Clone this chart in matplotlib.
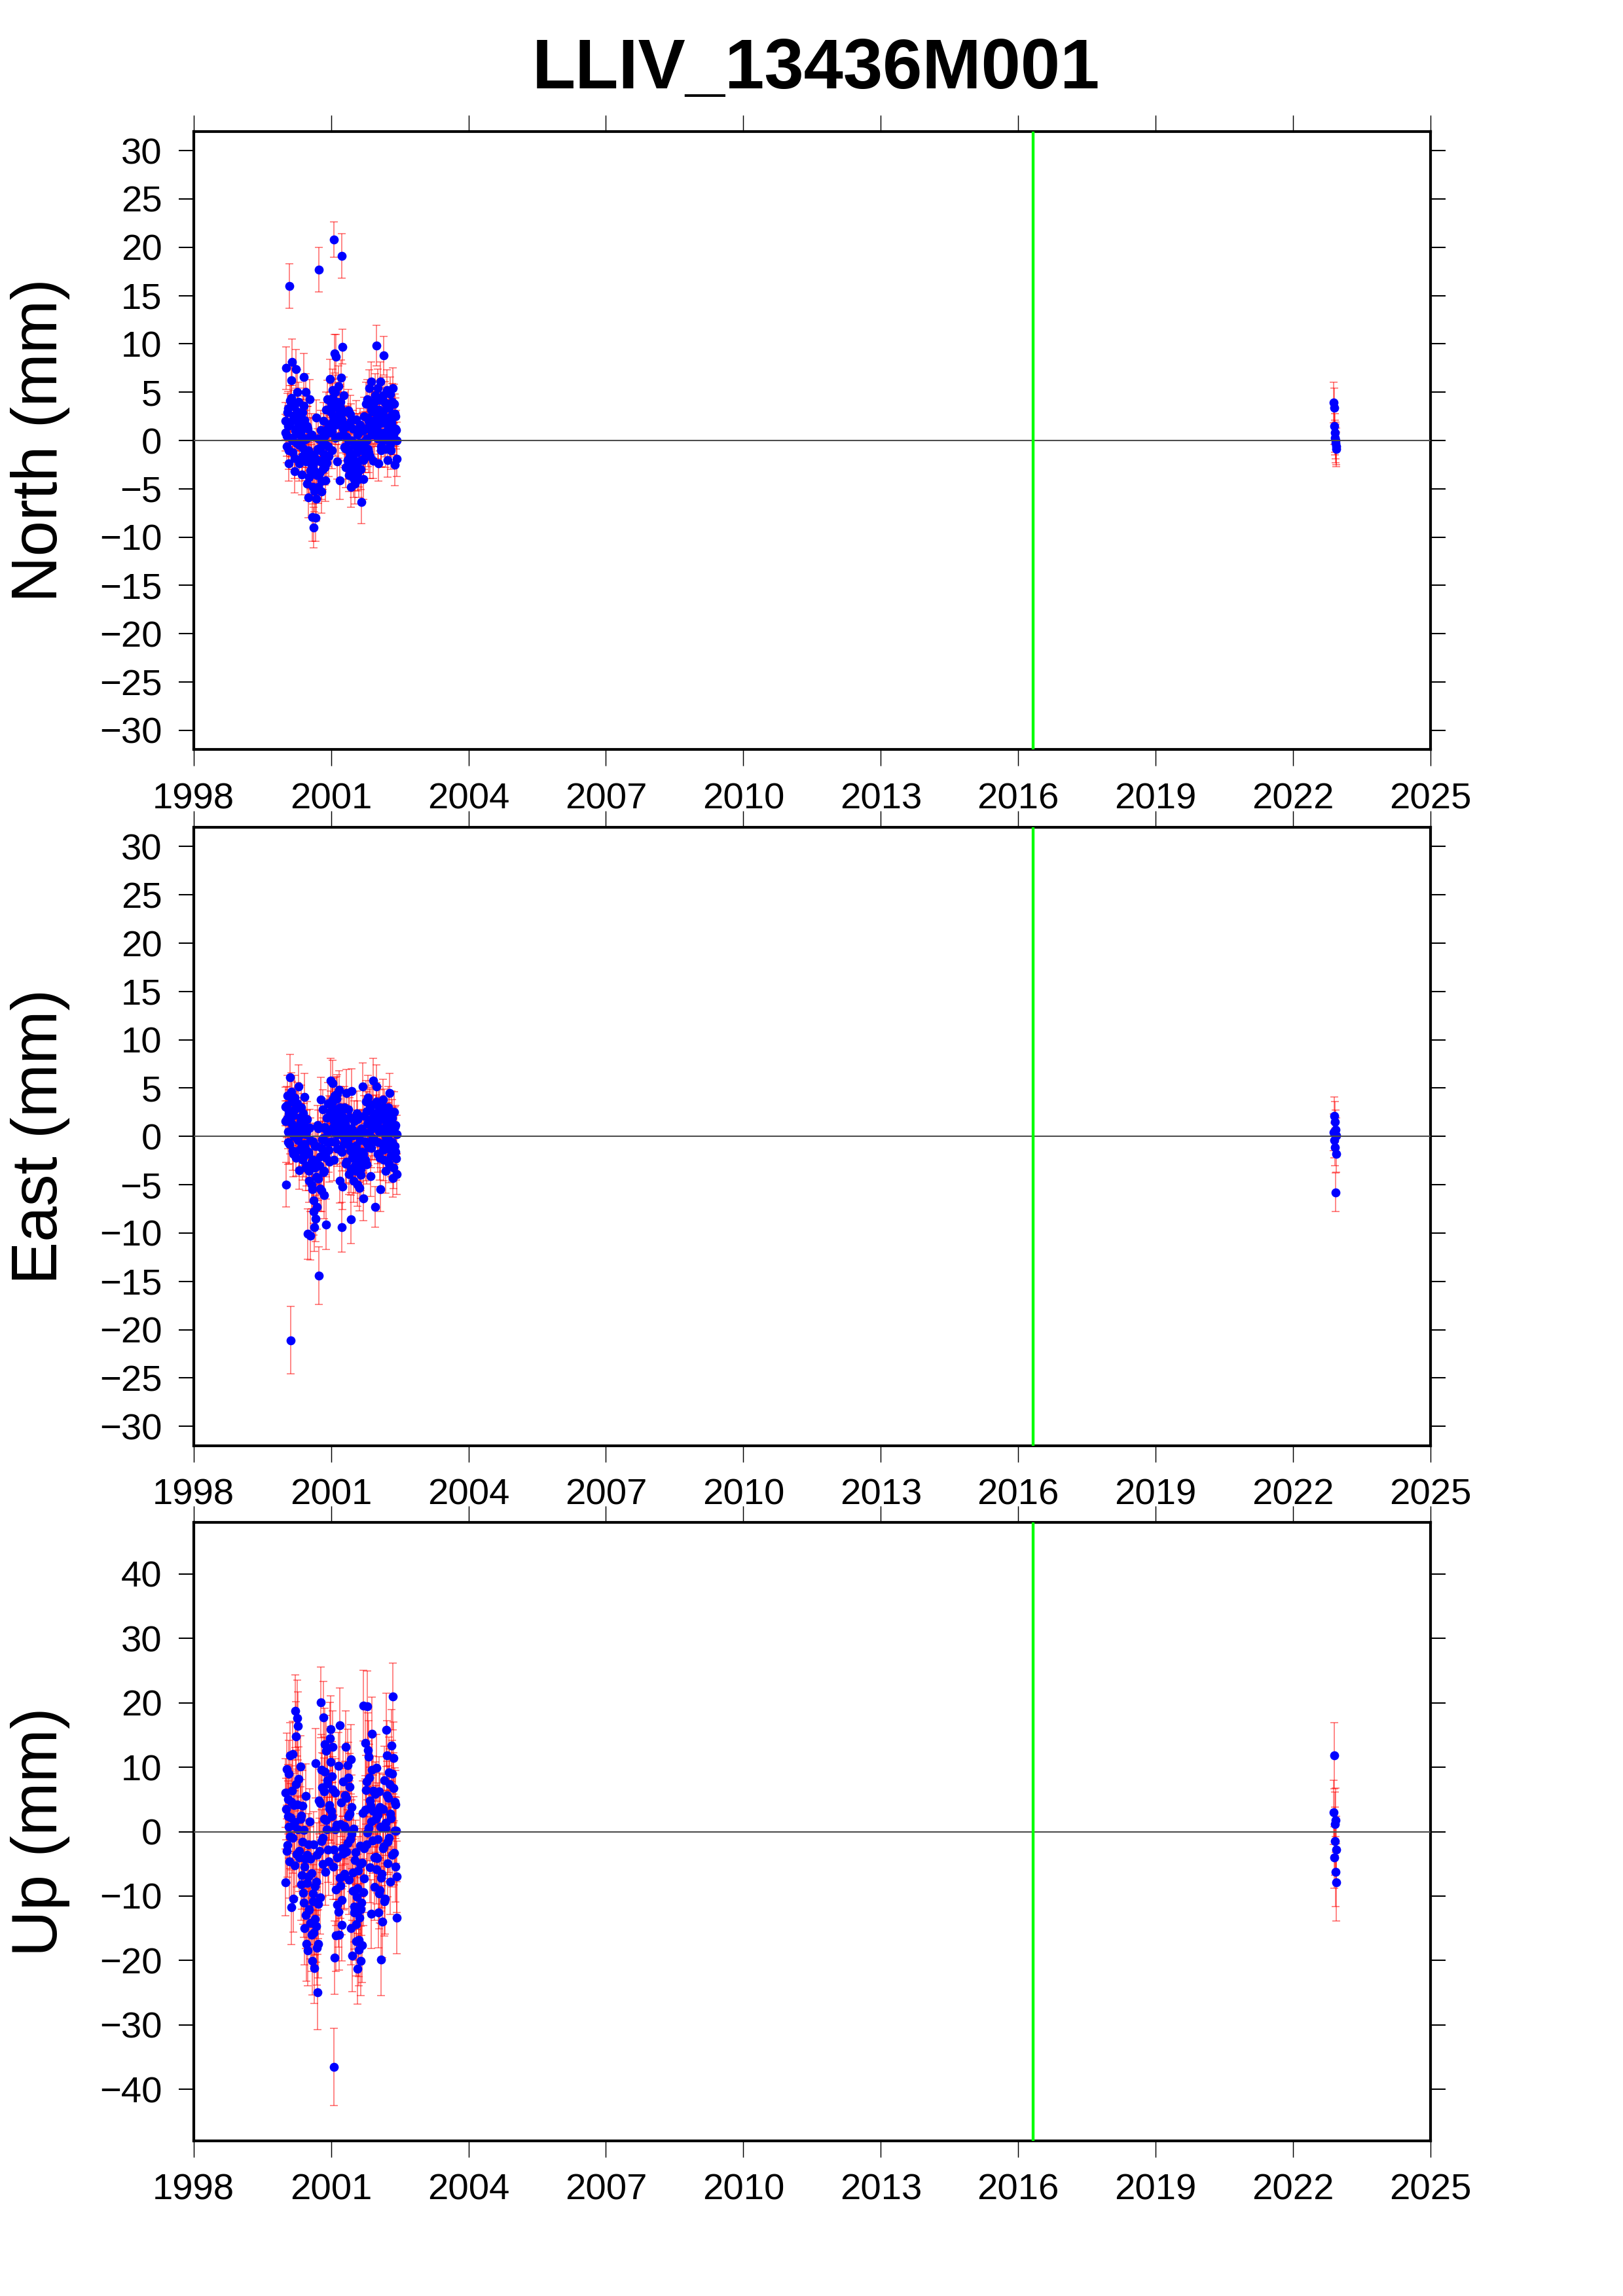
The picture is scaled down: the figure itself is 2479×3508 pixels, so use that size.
import matplotlib
matplotlib.use('Agg')
import matplotlib.pyplot as plt
import numpy as np

plt.rcParams['font.family'] = ['Liberation Sans', 'DejaVu Sans']

site = 'LLIV_13436M001'
event_time = 2016.33   # green line

# epochs of the first campaign (decimal years)
t_main = [
    2000.003, 2000.018, 2000.031, 2000.047, 2000.062, 2000.075, 2000.091, 2000.104, 2000.118, 2000.134,
    2000.149, 2000.162, 2000.178, 2000.192, 2000.205, 2000.221, 2000.236, 2000.249, 2000.265, 2000.281,
    2000.296, 2000.311, 2000.327, 2000.342, 2000.356, 2000.371, 2000.387, 2000.402, 2000.418, 2000.433,
    2000.447, 2000.463, 2000.478, 2000.494, 2000.509, 2000.523, 2000.539, 2000.554, 2000.570, 2000.585,
    2000.601, 2000.616,
    2000.632, 2000.647, 2000.663, 2000.678, 2000.694, 2000.708, 2000.724, 2000.739, 2000.755, 2000.770,
    2000.786, 2000.801, 2000.816, 2000.832, 2000.847, 2000.863, 2000.878, 2000.893, 2000.909, 2000.924,
    2000.940, 2000.955,
    2000.971, 2000.986, 2001.001, 2001.016, 2001.032, 2001.047, 2001.063, 2001.078, 2001.093, 2001.109,
    2001.124, 2001.140, 2001.155, 2001.171, 2001.186, 2001.201, 2001.217, 2001.232, 2001.248, 2001.263,
    2001.278, 2001.294,
    2001.309, 2001.325, 2001.340, 2001.356, 2001.371, 2001.386, 2001.402, 2001.417, 2001.433, 2001.448,
    2001.464, 2001.479, 2001.494, 2001.510, 2001.525, 2001.541, 2001.556, 2001.571, 2001.587, 2001.602,
    2001.618, 2001.633,
    2001.649, 2001.664, 2001.679, 2001.695, 2001.710, 2001.726, 2001.741, 2001.757, 2001.772, 2001.787,
    2001.803, 2001.818, 2001.834, 2001.849, 2001.864, 2001.880, 2001.895, 2001.911, 2001.926, 2001.942,
    2001.957, 2001.972,
    2001.988, 2002.003, 2002.019, 2002.034, 2002.049, 2002.065, 2002.080, 2002.096, 2002.111, 2002.127,
    2002.142, 2002.157, 2002.173, 2002.188, 2002.204, 2002.219, 2002.235, 2002.250, 2002.265, 2002.281,
    2002.296, 2002.312, 2002.327, 2002.342, 2002.358, 2002.373, 2002.389, 2002.404, 2002.420, 2002.435,
]

north = [
    0.8, 7.5, -0.6, 2.9, 1.5, -2.4, 16.0, 4.1, 0.3, 6.2, 8.1, -1.2, 2.2, 3.5, -3.2, 1.0, 7.4, -0.3, 5.0, 1.9,
    4.0, -2.4, 1.8, 0.5, -3.5, 2.9, -0.8, 6.6, 2.1, -1.5, 5.0, 0.2, -4.5, 1.2, -5.9, -2.0, 4.3, -3.1, 0.6, -7.9, -2.6, -9.0,
    -5.2, -1.8, -8.0, 2.4, -3.6, -0.9, -4.8, 17.7, -2.2, 1.1, -5.3, -0.4, -3.0, 2.0, -1.4, 0.5, -4.1, 3.2, -2.3, 4.3, -0.6, 1.7,
    6.4, 1.5, 3.8, -1.0, 5.2, 2.6, 20.8, 9.0, 0.3, 8.7, 4.0, -2.2, 5.6, 2.0, -4.1, 3.4, 6.5, 19.1, 9.7, 1.2, 4.7, -0.7,
    1.6, -2.8, 0.4, -0.9, 3.1, -3.6, -1.7, 2.7, -4.8, 0.0, -2.3, 1.2, -3.9, -0.5, -4.5, 2.2, -1.2, -3.4, 0.8, -2.9, -0.3, 1.6,
    -2.0, -6.4, -0.7, 1.0, -4.0, 2.5, -1.6, 3.8, 0.2, 4.3, -0.9, 2.0, 5.4, -1.6, 1.1, 6.1, 3.6, 3.0, -2.1, 0.6, 4.7, 2.2,
    9.8, 1.5, 5.4, -2.4, 3.2, 0.8, 6.1, -1.0, 2.6, 4.7, 8.8, 0.1, 3.9, -0.9, 2.2, 5.2, -2.0, 1.4, 3.4, 0.5,
    4.8, -1.0, 2.7, 5.4, 0.2, 3.8, -2.5, 2.5, 1.1, -1.9,
]
north_err = [
    1.9, 2.2, 1.7, 2.0, 2.1, 1.8, 2.3, 1.6, 2.0, 1.9, 2.4, 1.8, 2.1, 1.7, 2.2, 1.9, 2.0, 1.8, 2.3, 1.7,
    2.0, 1.8, 2.2, 1.9, 2.1, 1.7, 2.0, 2.4, 1.8, 2.2, 1.9, 2.0, 1.7, 2.3, 2.1, 1.8, 2.0, 1.9, 2.2, 2.5, 1.8, 2.1,
    2.2, 1.9, 2.4, 1.8, 2.0, 2.1, 1.7, 2.3, 1.9, 2.0, 2.2, 1.8, 2.1, 1.9, 2.0, 1.7, 2.2, 1.8, 2.0, 1.9, 2.1, 1.8,
    2.0, 1.8, 2.1, 1.9, 2.2, 1.7, 1.8, 2.0, 1.9, 2.3, 2.0, 1.8, 2.1, 1.9, 2.0, 2.2, 1.8, 2.3, 1.8, 2.0, 1.9, 2.1,
    1.9, 2.1, 1.8, 2.0, 2.2, 1.7, 1.9, 2.0, 2.1, 1.8, 2.3, 1.9, 2.0, 1.8, 2.1, 1.9, 2.2, 1.8, 2.0, 1.9, 2.1, 1.7,
    2.0, 2.2, 1.8, 1.9, 2.1, 2.0, 1.7, 2.2, 1.9, 2.0, 1.8, 2.1, 1.9, 2.3, 1.8, 2.0, 1.9, 2.1, 1.8, 2.0, 2.2, 1.9,
    2.1, 1.9, 2.0, 1.8, 2.2, 1.9, 2.0, 1.7, 2.1, 1.9, 2.0, 1.8, 2.2, 1.9, 2.0, 2.1, 1.8, 1.9, 2.0, 2.2,
    1.8, 2.0, 1.9, 2.1, 1.7, 2.0, 2.2, 1.9, 2.0, 1.8,
]

east = [
    3.1, -5.0, 1.8, 4.2, 0.5, 2.6, -0.8, 6.1, -21.1, 1.4, 3.6, -1.5, 2.2, 0.0, 4.0, 1.0, -2.2, 2.9, 0.6, -0.4,
    5.2, -3.5, 1.5, 3.0, -0.9, 0.6, 2.4, -2.0, 4.1, -1.2, 0.2, -3.0, 1.8, -10.1, -1.8, -4.6, 0.9, -10.3, -2.7, -5.5, -0.5, -7.8,
    -9.4, -3.2, -8.5, -1.0, -7.3, 1.2, -4.4, -14.4, -2.1, 3.8, -5.6, -0.3, 2.8, -3.7, -6.1, 0.8, -1.9, -9.1, 1.9, -0.6, 3.4, -2.6,
    2.1, 5.8, -0.5, 3.5, 5.5, 1.0, -2.4, 4.2, 2.8, 0.3, 3.9, -1.3, 1.7, 4.8, -4.6, 0.6, 2.5, -9.4, -5.2, 1.4, -0.8, 3.0,
    1.2, -2.8, 4.5, -0.4, 0.7, -3.9, 2.0, -1.5, -8.6, 4.7, -2.2, 0.1, -4.6, 1.6, -3.0, -0.9, 2.4, -5.0, -1.8, 0.5, -5.3, -2.6,
    -3.4, 0.8, -1.6, 5.2, -6.4, 2.1, -0.5, 3.6, -2.9, 1.3, 4.0, -1.1, 0.4, 2.7, -4.1, 1.8, 3.3, -0.2, 5.8, 0.9, -7.3, 2.4,
    5.2, 1.4, -1.8, 3.1, 0.5, 2.6, -5.5, 1.9, -0.7, 3.8, -2.4, 0.9, 2.2, -3.6, 0.2, 1.6, -1.3, 3.0, -0.4, 4.5,
    0.8, -2.0, 1.9, -4.3, 0.6, 2.5, -1.0, 1.2, -2.3, -3.9,
]
east_err = [
    2.0, 2.3, 1.9, 2.1, 1.8, 2.2, 2.0, 2.4, 3.5, 1.9, 2.1, 2.0, 2.2, 1.8, 2.3, 2.0, 1.9, 2.1, 2.2, 1.9,
    2.2, 2.0, 1.9, 2.3, 2.1, 1.8, 2.0, 2.2, 2.4, 1.9, 2.0, 2.1, 1.8, 2.6, 2.0, 2.2, 1.9, 2.5, 2.1, 2.3, 1.9, 2.4,
    2.5, 2.1, 2.4, 1.9, 2.3, 2.0, 2.2, 3.0, 2.1, 2.3, 2.2, 1.9, 2.0, 2.2, 2.4, 1.9, 2.1, 2.6, 2.0, 1.9, 2.2, 2.1,
    2.0, 2.3, 1.9, 2.1, 2.4, 2.0, 2.2, 1.9, 2.1, 2.0, 2.3, 1.8, 2.2, 2.0, 2.3, 1.9, 2.1, 2.6, 2.4, 2.0, 1.9, 2.2,
    2.1, 2.0, 2.4, 1.9, 2.2, 2.1, 2.0, 1.8, 2.5, 2.3, 2.0, 1.9, 2.2, 2.1, 2.0, 1.9, 2.3, 2.2, 2.0, 1.8, 2.4, 2.1,
    2.2, 1.9, 2.0, 2.4, 2.3, 2.1, 1.9, 2.2, 2.0, 2.1, 2.3, 1.9, 2.0, 2.2, 2.1, 1.9, 2.0, 2.2, 2.3, 2.0, 2.1, 1.9,
    2.2, 2.0, 1.9, 2.1, 2.0, 2.2, 2.3, 1.9, 2.0, 2.1, 2.2, 1.9, 2.0, 2.3, 2.1, 1.9, 2.0, 2.2, 1.9, 2.0,
    2.1, 2.2, 1.9, 2.0, 2.3, 2.1, 1.9, 2.0, 2.2, 2.1,
]

up = [
    -7.9, 3.5, 9.7, -2.1, 5.0, 0.8, -4.6, 11.8, 2.2, -11.7, 6.4, -1.0, -10.4, 4.1, 1.5, 18.7, 14.8, -3.5, 17.6, 16.4,
    8.2, -3.0, 10.1, 2.5, -6.8, 4.0, -9.5, 0.3, -15.0, -4.2, 5.5, -17.4, -8.0, -18.4, -2.0, -12.1, 1.6, -14.2, -6.5, -20.1, -10.8, -15.7,
    -21.2, -8.5, 10.6, -14.7, -3.6, -24.9, -17.4, 4.8, -10.2, 20.1, -1.5, 6.9, -5.0, 17.7, 2.0, 9.3, -6.2, 12.5, 0.4, 7.5, -2.8, 4.1,
    14.5, 15.9, 3.2, 8.6, 13.2, -5.4, -36.5, -19.6, 6.0, -16.1, 1.1, -11.3, 10.2, -16.0, 16.5, -8.4, 4.5, -14.5, -2.6, 7.8, -6.9, 0.9,
    5.6, 13.2, -3.1, 10.3, 2.4, -7.5, 7.0, -1.2, -15.0, 3.8, -19.3, -9.2, 0.5, -12.6, -4.4, -17.0, -10.1, -21.3, -6.0, -18.3, -13.4, -2.2,
    -20.1, -11.0, -4.8, 2.9, 19.6, -7.3, 13.8, 6.5, -2.0, 19.5, 12.7, 0.6, 8.4, -5.5, 4.0, -12.8, 9.6, -1.4, 3.2, -8.6, 5.8, -3.9,
    9.9, -4.1, 2.6, -12.5, 6.3, -9.1, 0.8, -19.9, -6.6, 3.5, -2.3, 8.0, -10.4, 1.4, 15.8, 11.8, -4.9, 5.2, -1.0, 7.4,
    -7.8, 2.1, 9.0, 21.0, 11.4, -3.3, 4.6, -5.4, 0.2, -13.4,
]
up_err = [
    5.2, 4.8, 5.6, 5.0, 5.4, 4.9, 5.7, 5.1, 5.3, 5.8, 4.7, 5.5, 5.2, 5.0, 4.9, 5.6, 5.4, 5.1, 5.9, 5.3,
    5.0, 5.4, 4.8, 5.6, 5.2, 5.5, 4.9, 5.3, 5.7, 5.1, 5.0, 5.8, 5.2, 5.5, 4.8, 5.4, 5.1, 5.6, 5.0, 5.3, 5.7, 5.2,
    5.5, 5.1, 5.4, 5.6, 5.0, 5.8, 5.3, 5.2, 5.7, 5.5, 4.9, 5.3, 5.1, 5.6, 5.0, 5.4, 5.2, 5.5, 4.9, 5.3, 5.1, 5.4,
    5.6, 5.2, 5.0, 5.4, 5.5, 5.1, 6.0, 5.7, 5.3, 5.6, 5.0, 5.4, 5.2, 5.5, 5.8, 5.1, 5.3, 5.6, 5.0, 5.4, 5.2, 5.1,
    5.3, 5.5, 5.0, 5.6, 5.2, 5.4, 5.1, 5.3, 5.7, 5.0, 5.5, 5.2, 4.9, 5.6, 5.3, 5.4, 5.1, 5.5, 5.2, 5.6, 5.3, 5.0,
    5.4, 5.1, 5.3, 5.0, 5.5, 5.2, 5.6, 5.3, 4.9, 5.4, 5.7, 5.1, 5.2, 5.5, 5.0, 5.3, 5.4, 5.1, 5.6, 5.2, 5.0, 5.3,
    5.2, 5.4, 5.0, 5.5, 5.3, 5.1, 4.9, 5.6, 5.2, 5.4, 5.0, 5.3, 5.5, 5.1, 5.7, 5.4, 5.2, 5.0, 5.3, 5.5,
    5.1, 5.4, 5.2, 5.2, 5.6, 5.0, 5.3, 5.5, 5.1, 5.6,
]

# further epochs of the same campaign, in between the ones above
t_more = [
    2000.010, 2000.034, 2000.059, 2000.083, 2000.108, 2000.132, 2000.157, 2000.181, 2000.206, 2000.230,
    2000.255, 2000.279, 2000.304, 2000.328, 2000.353, 2000.377, 2000.402, 2000.426, 2000.451, 2000.475,
    2000.500, 2000.524, 2000.549, 2000.573, 2000.598, 2000.622, 2000.647, 2000.671, 2000.696, 2000.720,
    2000.745, 2000.769, 2000.794, 2000.818, 2000.843, 2000.867, 2000.892, 2000.916, 2000.941, 2000.965,
    2000.990, 2001.014, 2001.039, 2001.063, 2001.088, 2001.112, 2001.137, 2001.161, 2001.186, 2001.210,
    2001.235, 2001.259, 2001.284, 2001.308, 2001.333, 2001.357, 2001.382, 2001.406, 2001.431, 2001.455,
    2001.480, 2001.504, 2001.529, 2001.553, 2001.578, 2001.602, 2001.627, 2001.651, 2001.676, 2001.700,
    2001.725, 2001.749, 2001.774, 2001.798, 2001.823, 2001.847, 2001.872, 2001.896, 2001.921, 2001.945,
    2001.970, 2001.994, 2002.019, 2002.043, 2002.068, 2002.092, 2002.117, 2002.141, 2002.166, 2002.190,
    2002.215, 2002.239, 2002.264, 2002.288, 2002.313, 2002.337, 2002.362, 2002.386, 2002.411, 2002.435,
]
north_more = [
    2.0, 0.5, 3.3, -1.0, 1.8, 4.4, 0.0, 2.6, -1.8, 1.2,
    3.0, 0.7, -0.5, 2.4, 1.0, -1.6, 3.6, 0.1, -2.2, 1.5,
    -1.0, -3.8, 0.4, -2.6, -4.8, -1.5, -3.2, -6.0, -2.0, 0.2,
    -3.4, -1.0, -4.2, -2.0, 0.6, -2.8, -0.5, 1.2, -1.6, 0.8,
    3.0, 1.0, 4.4, 2.2, 5.0, 1.6, 3.4, 0.4, 2.8, 4.0,
    2.2, 0.6, 3.0, -0.8, 1.4, -2.0, 0.0, -1.2, 2.0, -3.0,
    -1.8, -0.4, -3.2, -2.4, 0.6, -4.0, -1.0, -3.0, -0.2, -2.0,
    -0.8, 1.2, 0.0, 2.4, -1.2, 1.6, 3.2, 0.6, 2.0, 4.0,
    1.4, 3.2, 0.2, 2.6, 4.2, -0.6, 1.8, 3.0, 0.8, 2.2,
    3.6, 1.0, 2.4, -0.4, 1.8, 4.0, 0.6, 2.8, 1.2, 0.0,
]
north_more_err = [
    1.9, 2.1, 1.8, 2.0, 2.2, 1.9, 2.0, 1.7, 2.1, 1.9,
    2.0, 1.8, 2.2, 1.9, 2.1, 2.0, 1.8, 2.3, 1.9, 2.0,
    2.1, 1.9, 2.0, 2.2, 1.8, 2.0, 2.1, 2.3, 1.9, 2.0,
    1.8, 2.1, 1.9, 2.0, 2.2, 1.8, 2.0, 1.9, 2.1, 1.8,
    2.0, 2.2, 1.9, 2.1, 1.8, 2.0, 1.9, 2.2, 2.0, 1.8,
    2.1, 1.9, 2.0, 1.8, 2.2, 2.0, 1.9, 2.1, 1.8, 2.0,
    1.9, 2.1, 2.0, 1.8, 2.2, 1.9, 2.0, 2.1, 1.9, 2.0,
    2.2, 1.8, 2.0, 1.9, 2.1, 2.0, 1.8, 2.2, 1.9, 2.1,
    2.0, 1.9, 2.1, 1.8, 2.0, 2.2, 1.9, 2.0, 1.8, 2.1,
    1.9, 2.0, 2.2, 1.8, 2.0, 1.9, 2.1, 2.0, 1.8, 1.9,
]
east_more = [
    1.6, 3.2, -0.6, 2.2, 0.4, 4.6, 1.2, -1.8, 2.8, 0.0,
    3.4, 1.0, -1.4, 2.0, 0.2, -2.4, 1.4, -0.8, -3.2, 0.6,
    -1.6, -3.6, -0.4, -5.0, -2.4, -6.6, -1.0, -4.2, -2.8, 0.8,
    -3.0, -5.4, -1.2, -0.2, -3.6, 1.0, -2.2, 0.4, -1.4, 2.2,
    2.6, 0.6, 3.8, 1.6, -0.6, 2.4, 4.4, 0.2, 3.0, 1.2,
    -1.6, 2.0, -0.2, 1.4, -2.6, 0.4, 2.8, -1.0, -3.4, 0.8,
    -2.0, 0.2, -3.6, -1.2, 1.8, -2.6, -0.4, -4.0, 0.6, -1.8,
    0.4, -2.4, 2.6, -0.8, 1.4, 3.2, -1.2, 0.8, 2.0, -0.4,
    1.6, 3.6, -0.6, 2.2, -2.2, 0.6, 1.8, -1.4, 3.0, 0.0,
    -1.0, 1.4, -2.8, 0.4, 2.4, -0.6, -3.2, 1.0, -1.6, 0.2,
]
east_more_err = [
    2.1, 2.0, 2.3, 1.9, 2.2, 2.0, 2.1, 2.4, 1.9, 2.0,
    2.2, 2.1, 1.9, 2.0, 2.3, 2.1, 2.0, 1.9, 2.4, 2.1,
    2.2, 2.0, 2.3, 2.5, 2.1, 2.4, 2.0, 2.2, 2.1, 1.9,
    2.3, 2.4, 2.0, 2.1, 2.2, 1.9, 2.0, 2.1, 2.3, 2.0,
    2.1, 1.9, 2.2, 2.0, 2.3, 2.1, 2.0, 1.9, 2.2, 2.1,
    2.0, 2.2, 2.1, 1.9, 2.3, 2.0, 2.1, 2.2, 2.4, 1.9,
    2.1, 2.0, 2.3, 2.1, 1.9, 2.2, 2.0, 2.4, 2.1, 2.0,
    1.9, 2.2, 2.0, 2.1, 2.3, 1.9, 2.0, 2.1, 2.2, 2.0,
    2.1, 2.0, 2.2, 1.9, 2.3, 2.0, 2.1, 2.2, 1.9, 2.0,
    2.2, 2.1, 2.0, 1.9, 2.3, 2.0, 2.2, 2.1, 1.9, 2.0,
]
up_more = [
    6.0, -3.0, 2.4, 9.0, -0.8, 4.6, 12.0, 1.0, -5.2, 7.4,
    4.2, 0.4, -4.0, 2.0, -8.2, -1.6, -11.0, -5.4, -13.0, -3.6,
    -7.0, -12.0, -4.2, -16.0, -9.6, -2.0, -13.6, -7.8, -18.0, -11.2,
    -3.0, 4.4, 9.6, -1.0, 6.2, 13.6, 1.8, 8.0, -4.6, 3.6,
    10.8, 2.4, 6.6, -2.8, 0.4, -9.0, -4.0, -12.4, -7.2, 1.2,
    -10.6, -3.4, -6.6, 0.6, 5.2, -1.8, 8.4, 2.8, 11.2, -0.4,
    -6.4, -11.6, -3.2, -14.4, -8.8, -16.8, -5.0, -12.0, -17.6, -9.4,
    -2.6, 3.4, 7.8, -0.2, 11.6, 4.8, 1.6, 15.2, 6.4, -4.0,
    2.0, -5.8, -1.2, -9.6, 3.8, -7.2, -14.0, -2.6, -10.8, 0.6,
    5.6, -1.6, 9.2, 2.8, 13.4, -3.6, 6.8, 0.2, 4.2, -7.0,
]
up_more_err = [
    5.3, 5.0, 5.5, 5.2, 4.9, 5.6, 5.1, 5.4, 5.0, 5.3,
    5.5, 5.1, 5.3, 5.0, 5.6, 5.2, 5.4, 5.7, 5.1, 5.3,
    5.2, 5.5, 5.0, 5.7, 5.3, 5.1, 5.6, 5.2, 5.8, 5.4,
    5.1, 5.3, 5.5, 5.0, 5.2, 5.6, 5.1, 5.4, 5.3, 5.0,
    5.5, 5.2, 5.0, 5.4, 5.1, 5.6, 5.3, 5.5, 5.2, 5.0,
    5.4, 5.1, 5.3, 5.6, 5.0, 5.2, 5.5, 5.1, 5.4, 5.3,
    5.2, 5.5, 5.0, 5.6, 5.3, 5.7, 5.1, 5.4, 5.8, 5.2,
    5.0, 5.3, 5.5, 5.1, 5.6, 5.2, 5.0, 5.7, 5.3, 5.1,
    5.2, 5.4, 5.0, 5.5, 5.3, 5.1, 5.6, 5.2, 5.4, 5.0,
    5.3, 5.1, 5.5, 5.2, 5.6, 5.0, 5.4, 5.2, 5.3, 5.5,
]

# second campaign, end of 2022
t_late = [2022.885, 2022.893, 2022.901, 2022.909, 2022.917, 2022.925, 2022.933, 2022.941, 2022.949]
north_late = [3.9, 3.4, 1.5, 0.8, 0.3, 0.0, -0.3, -0.6, -0.9]
north_late_err = [2.1, 2.0, 1.9, 2.0, 1.8, 1.9, 2.0, 1.9, 1.8]
east_late = [0.4, 2.1, -0.4, 1.5, -1.1, 0.7, -5.8, 0.1, -1.8]
east_late_err = [1.9, 2.0, 1.8, 2.1, 1.9, 2.0, 2.0, 1.8, 1.9]
up_late = [3.0, -4.0, 11.8, -1.5, 1.2, -6.2, 1.8, -7.9, -2.8]
up_late_err = [5.0, 4.8, 5.1, 5.3, 4.9, 5.4, 5.0, 6.0, 5.2]

panels = [
    ('North (mm)', [north, north_more, north_late], [north_err, north_more_err, north_late_err], 32, 30, 5),
    ('East (mm)', [east, east_more, east_late], [east_err, east_more_err, east_late_err], 32, 30, 5),
    ('Up (mm)', [up, up_more, up_late], [up_err, up_more_err, up_late_err], 48, 40, 10),
]

fig = plt.figure(figsize=(2479 / 300, 3508 / 300), dpi=300)
fig.text(0.503, 0.9695, site, ha='center', va='center', fontsize=26, fontweight='bold')

left, width, height = 0.1193, 0.7621, 0.2693
bottoms = [0.6735, 0.3704, 0.0676]
t = np.concatenate([t_main, t_more, t_late])

for (label, vals, errs, lim, tmax, step), b in zip(panels, bottoms):
    ax = fig.add_axes([left, b, width, height])
    v = np.concatenate(vals)
    s = np.concatenate(errs)
    ax.errorbar(t, v, yerr=s, fmt='none', ecolor='red', alpha=0.55,
                elinewidth=0.4, capsize=1.4, capthick=0.4, zorder=2)
    ax.plot(t, v, 'o', color='blue', ms=3.3, mew=0, zorder=3)
    ax.axhline(0, color='0.3', lw=0.5, zorder=4)
    ax.axvline(event_time, color='#00ff00', lw=1.05, zorder=5)

    ax.set_xlim(1998, 2025)
    ax.set_ylim(-lim, lim)
    ax.set_xticks(np.arange(1998, 2026, 3))
    ax.set_yticks(np.arange(-tmax, tmax + 1, step))
    ax.tick_params(axis='x', direction='out', top=True, length=6, width=0.35,
                   pad=6, labelsize=13.5)
    ax.tick_params(axis='y', direction='out', right=True, length=5.6, width=0.5,
                   pad=6, labelsize=13.5)
    for sp in ax.spines.values():
        sp.set_linewidth(1.0)

    fig.text(0.025, b + height / 2, label, rotation=90, ha='center', va='center', fontsize=23.5)

fig.savefig('out.png', dpi=300)
